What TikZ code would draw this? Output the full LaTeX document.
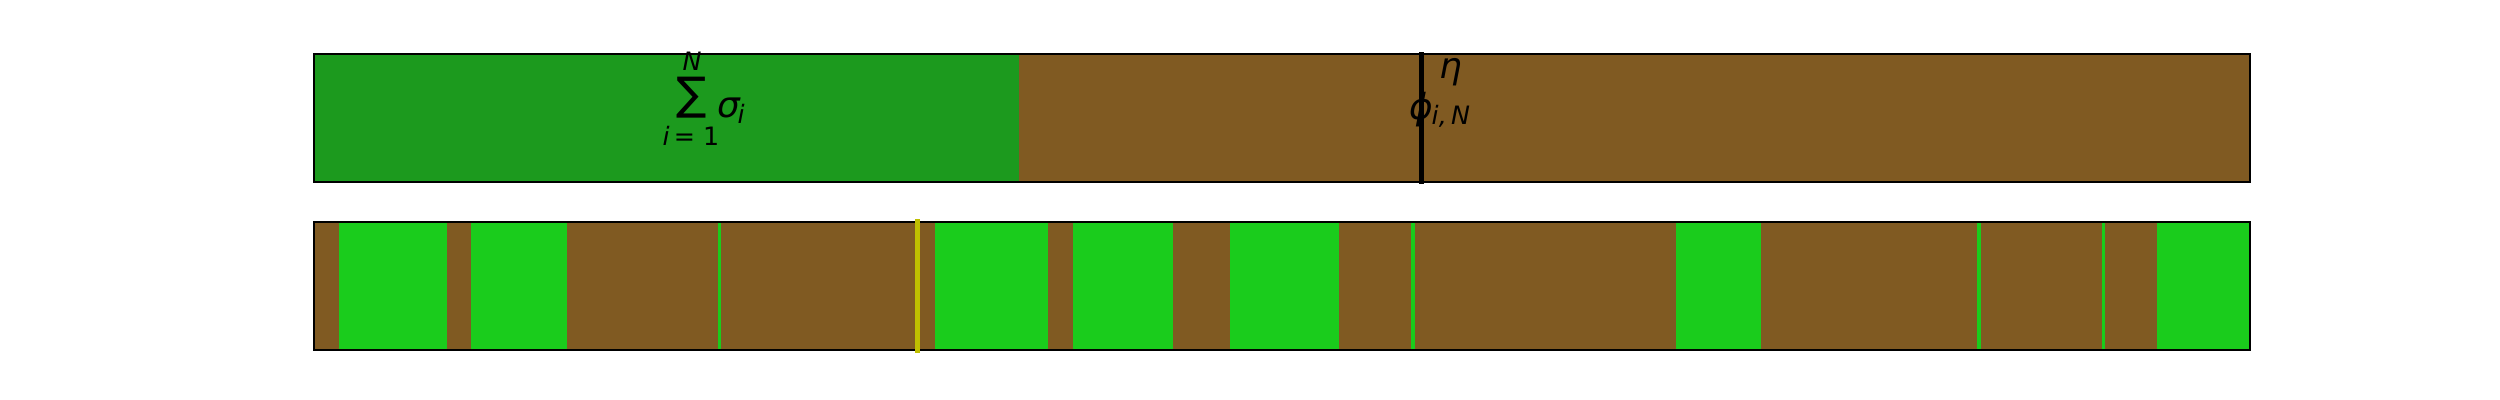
\documentclass[tikz,border=0pt]{standalone}
\usepackage{fontspec}
\setmainfont{DejaVu Sans}
\definecolor{topgreen}{RGB}{28,154,30}
\definecolor{brn}{RGB}{128,90,34}
\definecolor{lgreen}{RGB}{26,204,28}
\definecolor{ylw}{RGB}{191,191,0}
\begin{document}
\begin{tikzpicture}[x=0.01cm,y=-0.01cm,
  lbl/.style={inner sep=0pt, font=\fontsize{10.2}{12}\selectfont\itshape},
  sub/.style={inner sep=0pt, font=\fontsize{7.2}{9}\selectfont\itshape},
  frame/.style={draw=black, line width=0.02cm},
  seg/.style={fill=lgreen}]
\useasboundingbox (0,0) rectangle (2500,400);
% top bar
\fill[topgreen] (313.5,54) rectangle (1019,182);
\fill[brn] (1019,54) rectangle (2250,182);
\draw[frame] (313.5,54) rectangle (2250,182);
\draw[line width=0.05cm] (1421,52) -- (1421,184);
% labels top
\node[inner sep=0pt] (sum) at (692,98) {\fontsize{12.8}{13}\selectfont ∑};
\node[sub] (N) at (692,61) {N};
\node[sub] (i1) at (691,136) {i\,{\upshape = 1}};
\node[lbl, anchor=west] (sig) at (717,108) {σ};
\node[sub, anchor=west] (sigi) at (737,114) {i};
\node[lbl] (eta) at (1451,72) {η};
\node[lbl, anchor=west] (phi) at (1409,110) {ϕ};
\node[sub, anchor=west] (phisub) at (1431,116) {i,\,N};
% bottom bar
\fill[brn] (313.5,222) rectangle (2250,350);
\fill[seg] (339,222) rectangle (447,350);
\fill[seg] (471,222) rectangle (567,350);
\fill[seg] (717.7,222) rectangle (721,350);
\fill[seg] (934.7,222) rectangle (1048,350);
\fill[seg] (1073,222) rectangle (1173,350);
\fill[seg] (1230,222) rectangle (1339,350);
\fill[seg] (1411,222) rectangle (1415,350);
\fill[seg] (1676,222) rectangle (1761,350);
\fill[seg] (1977,222) rectangle (1981,350);
\fill[seg] (2102,222) rectangle (2105,350);
\fill[seg] (2157,222) rectangle (2250,350);
\draw[frame] (313.5,222) rectangle (2250,350);
\draw[ylw, line width=0.05cm] (917,219) -- (917,353);
\end{tikzpicture}
\end{document}
